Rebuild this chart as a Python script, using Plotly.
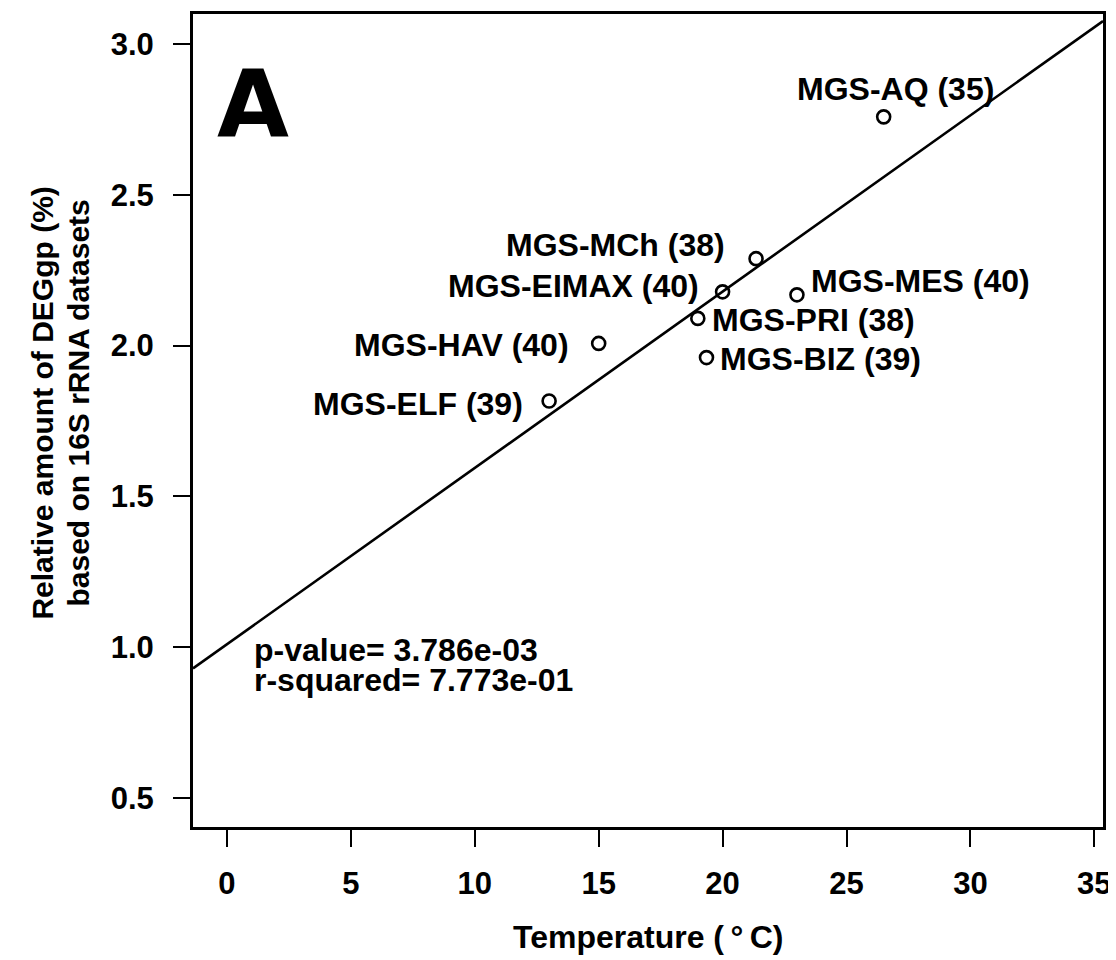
import numpy as np
import plotly.graph_objects as go

# ---- data ----
sample_names = ["MGS-AQ (35)", "MGS-MCh (38)", "MGS-EIMAX (40)", "MGS-MES (40)",
                "MGS-PRI (38)", "MGS-BIZ (39)", "MGS-HAV (40)", "MGS-ELF (39)"]
temperature = [26.5, 21.35, 20.0, 23.0, 19.0, 19.35, 15.0, 13.0]
degg_percent = [2.758, 2.288, 2.178, 2.168, 2.090, 1.960, 2.007, 1.816]
x_ticks = [0, 5, 10, 15, 20, 25, 30, 35]
y_ticks = [0.5, 1.0, 1.5, 2.0, 2.5, 3.0]
stat_lines = ["p-value= 3.786e-03", "r-squared= 7.773e-01"]
panel_letter = "A"
x_title = "Temperature (\u2009\u00b0\u2009C)"
y_title_lines = ["Relative amount of DEGgp (%)", "based on 16S rRNA datasets"]

# ---- layout parameters ----
OFF = 8  # page body margin
W, H = 1116 - OFF, 960 - OFF
ML, MR, MT, MB = 193 - OFF, 13, 11 - OFF, 133
x_range = [-1.37, 35.35]
y_range = [0.404, 3.099]
FONT = "Liberation Sans, Arial, Helvetica, sans-serif"
FS = 32

# label offsets in pixels (dx, dy up-positive, xanchor)
label_layout = [
    (12, 28, "center"),
    (-29, 14, "right"),
    (-22, 6, "right"),
    (12, 14, "left"),
    (12, -2, "left"),
    (12, -1, "left"),
    (-28, -2, "right"),
    (-24, -3, "right"),
]

# linear fit
slope, intercept = np.polyfit(temperature, degg_percent, 1)
x_line = np.array(x_range)
y_line = intercept + slope * x_line

fig = go.Figure()
fig.add_trace(go.Scatter(x=x_line, y=y_line, mode="lines",
                         line=dict(color="black", width=2.6),
                         hoverinfo="skip", showlegend=False))
fig.add_trace(go.Scatter(x=temperature, y=degg_percent, mode="markers",
                         marker=dict(symbol="circle-open", size=13,
                                     color="black", line=dict(width=2.6, color="black")),
                         text=sample_names, showlegend=False))

annotations = []
for name, xv, yv, (dx, dy, anc) in zip(sample_names, temperature, degg_percent, label_layout):
    annotations.append(dict(x=xv, y=yv, xref="x", yref="y", text=name, showarrow=False,
                            xanchor=anc, yanchor="middle", xshift=dx, yshift=dy,
                            font=dict(family=FONT, size=FS, color="black", weight="bold")))

# stats text
for i, line in enumerate(stat_lines):
    annotations.append(dict(x=1.0, y=0.99 - i * 0.099, xref="x", yref="y", text=line,
                            showarrow=False, xanchor="left", yanchor="middle",
                            font=dict(family=FONT, size=FS, color="black", weight="bold")))

# panel letter
annotations.append(dict(x=1.04, y=2.80, xref="x", yref="y", text=panel_letter, showarrow=False,
                        xanchor="center", yanchor="middle",
                        font=dict(family="DejaVu Sans, sans-serif", size=93,
                                  color="black", weight="bold")))

pw = W - ML - MR
ph = H - MT - MB
bottom_px = OFF + H - MB
# x title
annotations.append(dict(x=0.5, y=-(937 - bottom_px) / ph, xref="paper", yref="paper",
                        text=x_title, showarrow=False, xanchor="center", yanchor="middle",
                        font=dict(family=FONT, size=FS, color="black", weight="bold")))
# y title lines
for px, line in zip([43, 79], y_title_lines):
    annotations.append(dict(x=(px - OFF - ML) / pw, y=(bottom_px - 402) / ph,
                            xref="paper", yref="paper",
                            text=line, showarrow=False, textangle=-90,
                            xanchor="center", yanchor="middle",
                            font=dict(family=FONT, size=30, color="black", weight="bold")))

axis_common = dict(showline=True, linecolor="black", linewidth=3, mirror=True,
                   ticks="outside", ticklen=17, tickwidth=2, tickcolor="black",
                   showgrid=False, zeroline=False,
                   tickfont=dict(family=FONT, size=31, color="black", weight="bold"))

fig.update_layout(
    width=W, height=H,
    margin=dict(l=ML, r=MR, t=MT, b=MB),
    paper_bgcolor="white", plot_bgcolor="white",
    xaxis=dict(range=x_range, tickvals=x_ticks, ticklabelstandoff=10, **axis_common),
    yaxis=dict(range=y_range, tickvals=y_ticks, tickformat=".1f", ticklabelstandoff=13,
               **axis_common),
    annotations=annotations,
    showlegend=False,
)

fig.write_html("out.html")
